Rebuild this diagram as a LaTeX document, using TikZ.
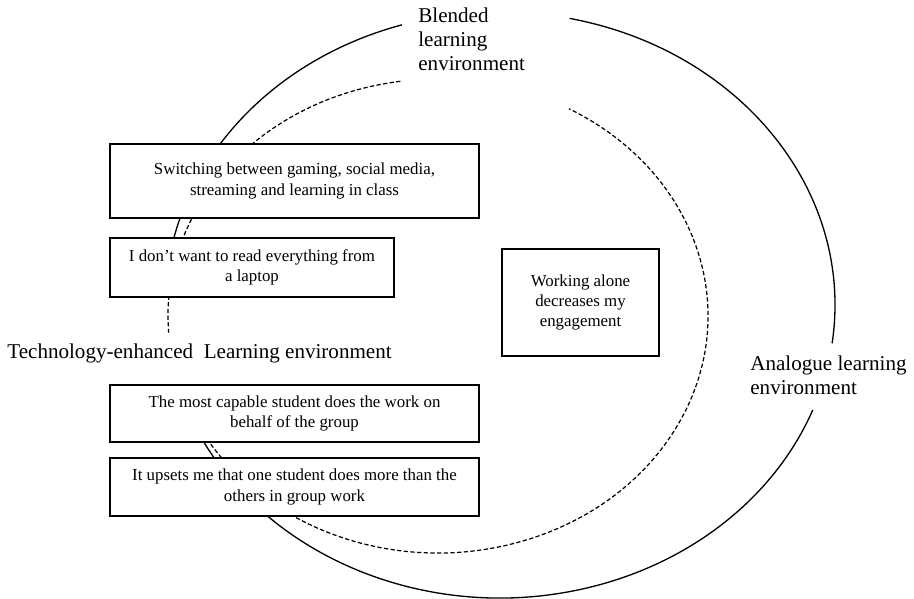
\documentclass[tikz,border=0pt]{standalone}
\usepackage{fontspec}
\setmainfont{Liberation Serif}

\begin{document}
\begin{tikzpicture}[x=0.02cm, y=0.02cm]
    \tikzset{every node/.append style={inner sep=0pt}}
    \tikzset{envline/.style={black, line width=0.75pt}}
    \tikzset{envdash/.style={black, line width=0.7pt, dash pattern=on 2.4pt off 1.4pt}}
    \tikzset{obsbox/.style={draw=black, line width=0.8pt, fill=white, align=center, font=\fontsize{9.6}{11.6}\selectfont}}
    \tikzset{envlabel/.style={font=\fontsize{12}{13.6}\selectfont}}
    \useasboundingbox (0,0) rectangle (914,-599);
    % outer (solid) environment
    \draw [envline] (500,-305) ++(-7.5:335 and 293) arc [start angle=-7.5, end angle=78, x radius=335, y radius=293];
    \draw [envline] (500,-305) ++(107:335 and 293) arc [start angle=107, end angle=178, x radius=335, y radius=293];
    \draw [envline] (500,-305) ++(196:335 and 293) arc [start angle=196, end angle=339, x radius=335, y radius=293];
    % inner (dashed) environment
    \draw [envdash] (438,-316) ++(98:270 and 237) arc [start angle=98, end angle=184, x radius=270, y radius=237];
    \draw [envdash] (438,-316) ++(197:270 and 237) arc [start angle=197, end angle=421, x radius=270, y radius=237];
    % labels
    \node [envlabel, anchor=north west, align=left] (blended) at (418,-8) {Blended\\learning\\environment};
    \node [envlabel, anchor=west] (tech) at (7,-353) {Technology-enhanced~ Learning environment};
    \node [envlabel, anchor=north west, align=left] (analogue) at (750,-356) {Analogue learning\\environment};
    % boxes
    \node [obsbox, minimum width=7.38cm, minimum height=1.48cm] (switch) at (294.5,-181) {Switching between gaming, social media,\\streaming and learning in class};
    \node [obsbox, minimum width=5.68cm, minimum height=1.18cm] (laptop) at (252,-267.5) {I don't want to read everything from\\a laptop};
    \node [obsbox, minimum width=7.38cm, minimum height=1.14cm] (capable) at (294.5,-413.5) {The most capable student does the work on\\behalf of the group};
    \node [obsbox, minimum width=7.38cm, minimum height=1.16cm] (upsets) at (294.5,-487) {It upsets me that one student does more than the\\others in group work};
    \node [obsbox, minimum width=3.14cm, minimum height=2.14cm] (alone) at (580.5,-302.5) {Working alone\\decreases my\\engagement};
\end{tikzpicture}
\end{document}
